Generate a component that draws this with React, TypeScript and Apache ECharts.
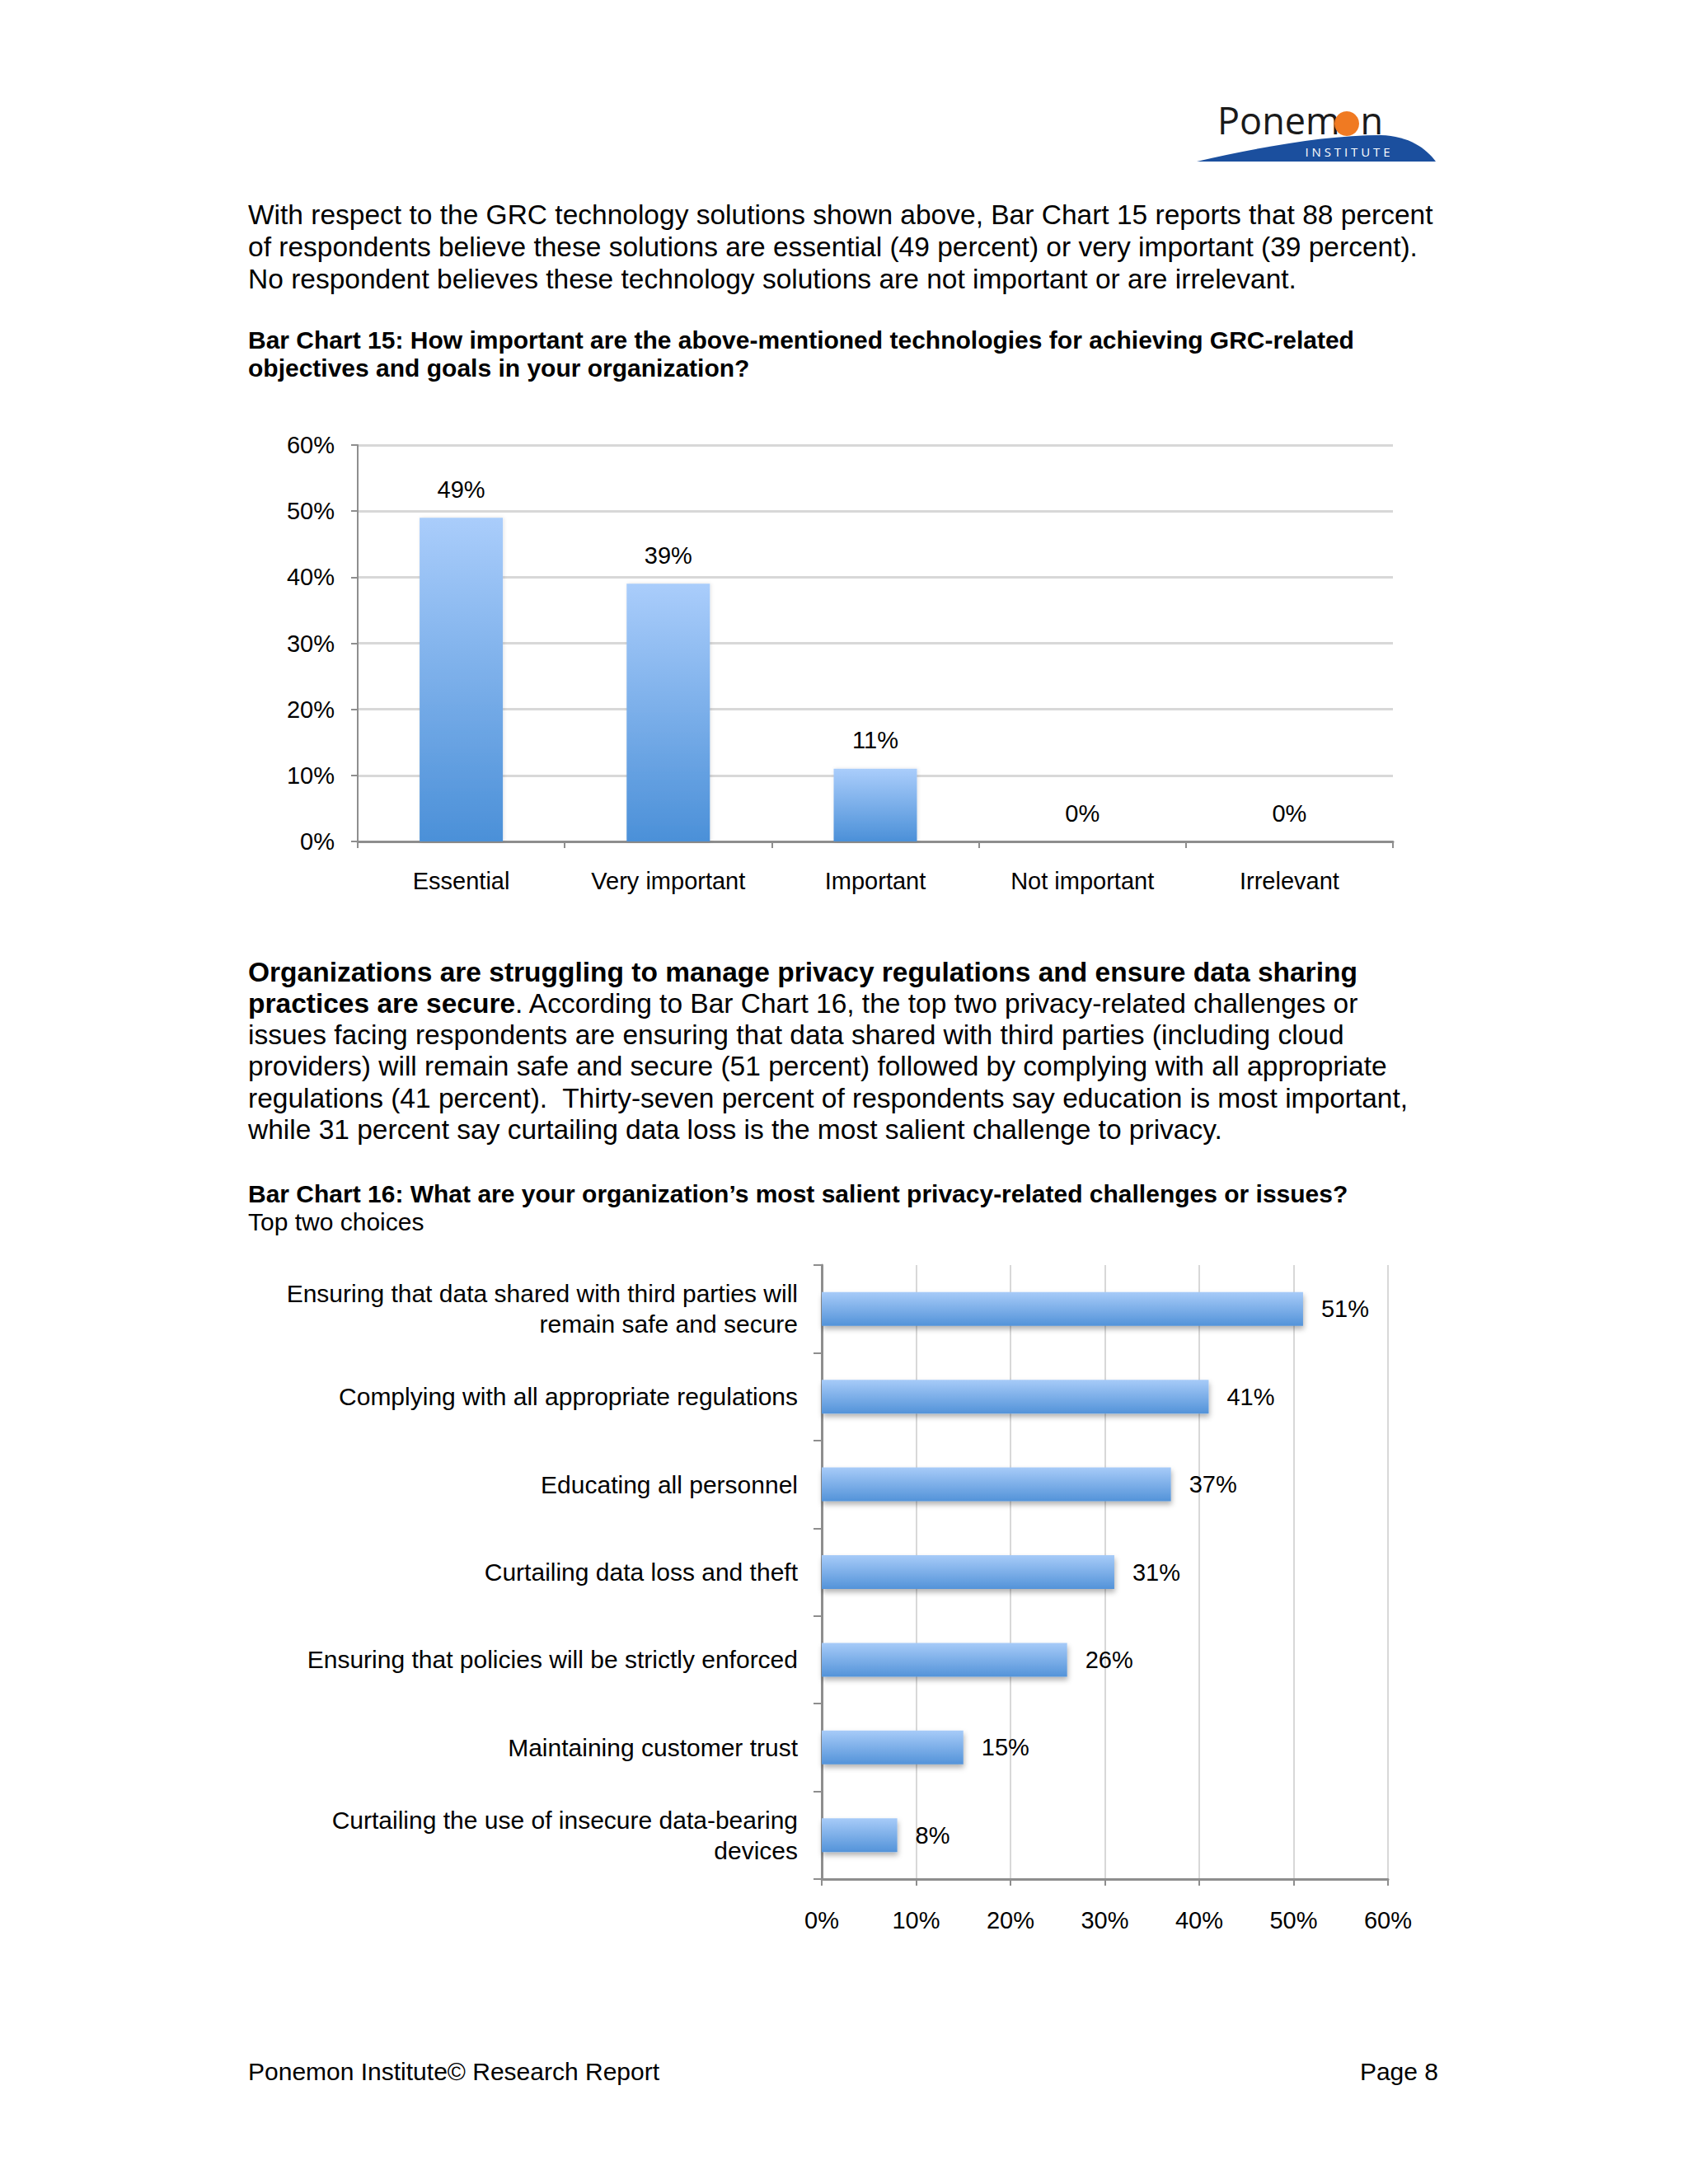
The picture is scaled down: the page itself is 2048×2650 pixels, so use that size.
import React, { useEffect, useRef } from "react";
import * as echarts from "echarts";

const FONT = '"Liberation Sans", Arial, Helvetica, sans-serif';
const LOGO_FONT = '"Open Sans", "Noto Sans", sans-serif';

const cats15 = ["Essential", "Very important", "Important", "Not important", "Irrelevant"];
const vals15 = [49, 39, 11, 0, 0];

const cats16 = [
  "Ensuring that data shared with third parties will\nremain safe and secure",
  "Complying with all appropriate regulations",
  "Educating all personnel",
  "Curtailing data loss and theft",
  "Ensuring that policies will be strictly enforced",
  "Maintaining customer trust",
  "Curtailing the use of insecure data-bearing\ndevices",
];
const vals16 = [51, 41, 37, 31, 26, 15, 8];

const para1 = [
  "With respect to the GRC technology solutions shown above, Bar Chart 15 reports that 88 percent",
  "of respondents believe these solutions are essential (49 percent) or very important (39 percent).",
  "No respondent believes these technology solutions are not important or are irrelevant.",
];
const title15 = [
  "Bar Chart 15: How important are the above-mentioned technologies for achieving GRC-related",
  "objectives and goals in your organization?",
];
const para2 = [
  "{b|Organizations are struggling to manage privacy regulations and ensure data sharing}",
  "{b|practices are secure}. According to Bar Chart 16, the top two privacy-related challenges or",
  "issues facing respondents are ensuring that data shared with third parties (including cloud",
  "providers) will remain safe and secure (51 percent) followed by complying with all appropriate",
  "regulations (41 percent).  Thirty-seven percent of respondents say education is most important,",
  "while 31 percent say curtailing data loss is the most salient challenge to privacy.",
];
const title16 = "Bar Chart 16: What are your organization\u2019s most salient privacy-related challenges or issues?";
const subtitle16 = "Top two choices";
const footerLeft = "Ponemon Institute\u00a9 Research Report";
const footerRight = "Page 8";

echarts.graphic.registerShape(
  "logo",
  echarts.graphic.extendPath(
    "M1452 196 C1530 178 1610 164 1675 164 C1710 165 1730 180 1742 196 Z",
    {}
  )
);

function textEl(text: string, x: number, y: number, size: number, weight = "normal", align = "left") {
  return {
    type: "text",
    x,
    y,
    style: {
      text,
      fontSize: size,
      fontFamily: FONT,
      fontWeight: weight,
      fill: "#000",
      align,
      verticalAlign: "middle",
      rich: {
        b: { fontSize: size, fontFamily: FONT, fontWeight: "bold", fill: "#000" },
      },
    },
  };
}

export default function App() {
  const ref = useRef<HTMLDivElement>(null);
  useEffect(() => {
    if (!ref.current) return;
    const chart = echarts.init(ref.current, null, { renderer: "svg" });
    const LEFT = 301;
    const graphics: any[] = [];
    para1.forEach((t, i) => graphics.push(textEl(t, LEFT, 260 + i * 39, 33.5)));
    title15.forEach((t, i) => graphics.push(textEl(t, LEFT, 412 + i * 34, 30, "bold")));
    para2.forEach((t, i) => graphics.push(textEl(t, LEFT, 1179 + i * 38.3, 33.5)));
    graphics.push(textEl(title16, LEFT, 1448, 30, "bold"));
    graphics.push(textEl(subtitle16, LEFT, 1482, 30));
    graphics.push(textEl(footerLeft, LEFT, 2513, 30));
    graphics.push(textEl(footerRight, 1745, 2513, 30, "normal", "right"));
    // logo
    graphics.push({ type: "logo", x: 0, y: 0, scaleX: 1, scaleY: 1, style: { fill: "#1b4f9e" } });
    graphics.push({
      type: "text",
      x: 1635,
      y: 184,
      style: {
        text: "I N S T I T U T E",
        fontSize: 15,
        lineHeight: 15,
        fontFamily: LOGO_FONT,
        fill: "#ffffff",
        align: "center",
        verticalAlign: "middle",
      },
    });
    graphics.push({
      type: "text",
      x: 1477,
      y: 145,
      style: {
        text: "Ponem",
        fontSize: 45,
        lineHeight: 40,
        fontFamily: LOGO_FONT,
        fill: "#1a1a1a",
        align: "left",
        verticalAlign: "middle",
      },
    });
    graphics.push({
      type: "text",
      x: 1678,
      y: 145,
      style: {
        text: "n",
        fontSize: 45,
        lineHeight: 40,
        fontFamily: LOGO_FONT,
        fill: "#1a1a1a",
        align: "right",
        verticalAlign: "middle",
      },
    });
    graphics.push({ type: "circle", shape: { cx: 1634, cy: 150, r: 15 }, style: { fill: "#f07a22" } });

    const axisGray = "#8e8e8e";
    const gridGray = "#d8d8d8";

    const grad15 = new echarts.graphic.LinearGradient(0, 0, 0, 1, [
      { offset: 0, color: "#aacdfb" },
      { offset: 1, color: "#4b90d8" },
    ]);
    const grad16 = new echarts.graphic.LinearGradient(0, 0, 0, 1, [
      { offset: 0, color: "#a7cbf8" },
      { offset: 1, color: "#5393d9" },
    ]);

    chart.setOption({
      animation: false,
      backgroundColor: "#ffffff",
      textStyle: { fontFamily: FONT, color: "#000" },
      graphic: graphics,
      grid: [
        { left: 434, top: 540, width: 1256, height: 481, containLabel: false },
        { left: 997, top: 1535, width: 687, height: 745, containLabel: false },
      ],
      xAxis: [
        {
          type: "category",
          gridIndex: 0,
          data: cats15,
          axisLine: { lineStyle: { color: axisGray, width: 3 } },
          axisTick: { show: true, length: 8, lineStyle: { color: axisGray, width: 2 } },
          axisLabel: { fontSize: 29, color: "#000", margin: 33, fontFamily: FONT },
          splitLine: { show: false },
        },
        {
          type: "value",
          gridIndex: 1,
          min: 0,
          max: 60,
          interval: 10,
          axisLine: { show: true, lineStyle: { color: axisGray, width: 3 } },
          axisTick: { show: true, length: 8, lineStyle: { color: axisGray, width: 2 } },
          axisLabel: { fontSize: 29, color: "#000", margin: 35, formatter: "{value}%", fontFamily: FONT },
          splitLine: { show: true, lineStyle: { color: gridGray, width: 2 } },
        },
      ],
      yAxis: [
        {
          type: "value",
          gridIndex: 0,
          min: 0,
          max: 60,
          interval: 10,
          axisLine: { show: true, lineStyle: { color: axisGray, width: 2 } },
          axisTick: { show: true, length: 8, lineStyle: { color: axisGray, width: 2 } },
          axisLabel: { fontSize: 29, color: "#000", margin: 28, formatter: "{value}%", fontFamily: FONT },
          splitLine: { show: true, lineStyle: { color: gridGray, width: 3 } },
        },
        {
          type: "category",
          gridIndex: 1,
          inverse: true,
          data: cats16,
          axisLine: { show: true, lineStyle: { color: axisGray, width: 3 } },
          axisTick: { show: true, length: 10, lineStyle: { color: axisGray, width: 2 } },
          axisLabel: { fontSize: 30, color: "#000", margin: 29, lineHeight: 37, align: "right", fontFamily: FONT },
          splitLine: { show: false },
        },
      ],
      series: [
        {
          type: "bar",
          xAxisIndex: 0,
          yAxisIndex: 0,
          data: vals15,
          barWidth: 101,
          itemStyle: {
            color: grad15,
            shadowColor: "rgba(0,0,0,0.12)",
            shadowBlur: 4,
            shadowOffsetX: 1,
          },
          label: {
            show: true,
            position: "top",
            distance: 20,
            formatter: "{c}%",
            fontSize: 29,
            color: "#000",
            fontFamily: FONT,
          },
        },
        {
          type: "bar",
          xAxisIndex: 1,
          yAxisIndex: 1,
          data: vals16,
          barWidth: 41,
          itemStyle: {
            color: grad16,
            shadowColor: "rgba(0,0,0,0.3)",
            shadowBlur: 6,
            shadowOffsetY: 4,
            shadowOffsetX: 1,
          },
          label: {
            show: true,
            position: "right",
            distance: 22,
            formatter: "{c}%",
            fontSize: 29,
            color: "#000",
            fontFamily: FONT,
          },
        },
      ],
    });
    return () => chart.dispose();
  }, []);
  return (
    <div
      ref={ref}
      style={{ position: "absolute", left: 0, top: 0, width: 2048, height: 2650, background: "#fff" }}
    />
  );
}
